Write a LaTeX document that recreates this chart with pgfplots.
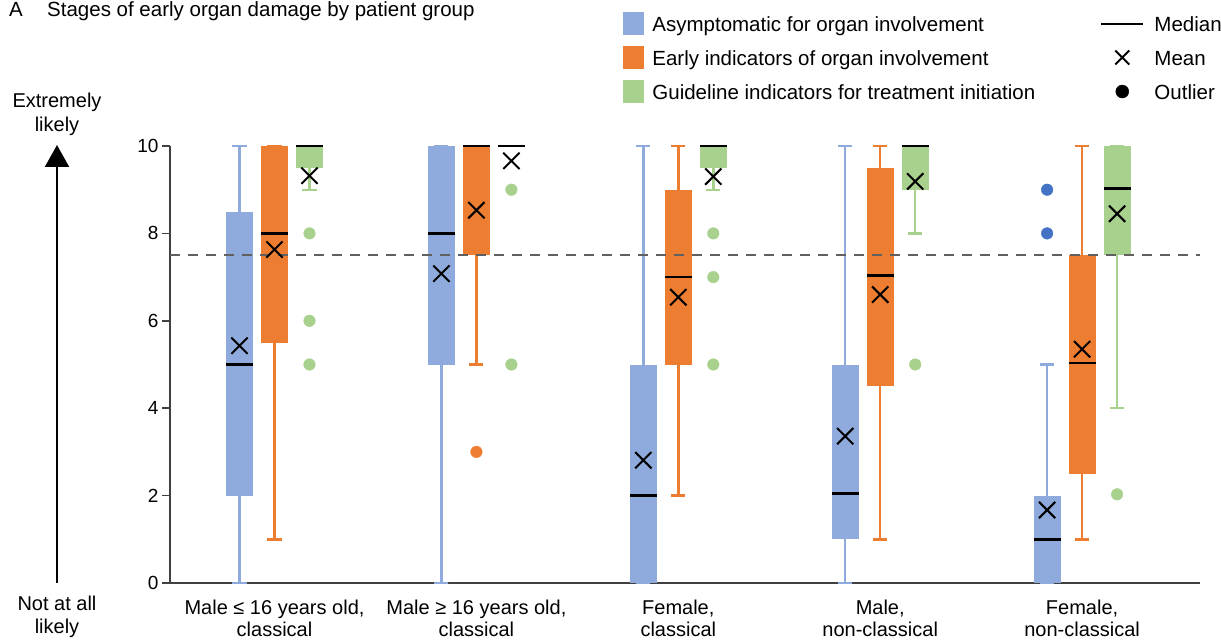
\documentclass[border=0pt]{standalone}
\usepackage{pgfplots}
\pgfplotsset{compat=1.18}
\usepgfplotslibrary{statistics}
\usetikzlibrary{arrows.meta}
\usepackage{fontspec}
\setmainfont{Liberation Sans}
\definecolor{cblue}{HTML}{8FAADC}
\definecolor{cbluedark}{HTML}{4472C4}
\definecolor{corange}{HTML}{ED7D31}
\definecolor{cgreen}{HTML}{A9D18E}
\definecolor{axisgray}{HTML}{404040}
\definecolor{dashgray}{HTML}{606060}
\pgfplotsset{
  bpbase/.style={
    forget plot,
    line width=2.4pt,
    boxplot/draw direction=y,
    boxplot/box extend=0.134,
    boxplot/whisker extend=0.07,
    boxplot/every box/.style={draw=none},
    boxplot/every median/.style={draw=black, line width=2.6pt},
    boxplot/every whisker/.style={line width=2.4pt},
    mark=*, mark size=5.8pt,
  },
  bpblue/.style={bpbase, color=cblue, fill=cblue, mark options={cbluedark, line width=0.4pt}},
  bporange/.style={bpbase, color=corange, fill=corange, mark options={corange, line width=0.4pt}},
  bpgreen/.style={bpbase, color=cgreen, fill=cgreen, mark options={cgreen, line width=0.4pt}},
}
\begin{document}
\begin{tikzpicture}
\path[use as bounding box] (0pt,0pt) rectangle (1221pt,641pt);
\begin{axis}[
  at={(170pt,58pt)}, anchor=south west,
  x=201.9pt, y=43.7pt,
  xmin=-0.5176, xmax=4.584, ymin=0, ymax=10,
  clip=false,
  axis x line*=bottom, axis y line*=left,
  axis line style={line width=2pt, color=axisgray},
  major tick length=8pt, tick align=outside,
  ytick={0,2,4,6,8,10},
  ytick style={line width=1.5pt, color=axisgray},
  xtick={0,1,2,3,4},
  xtick style={draw=none},
  xticklabels={{Male ≤ 16 years old,\\classical},{Male ≥ 16 years old,\\classical},{Female,\\classical},{Male,\\non-classical},{Female,\\non-classical}},
  xticklabel style={align=center, font=\fontsize{20}{22.5}\selectfont, yshift=-5pt},
  yticklabel style={font=\fontsize{19}{19}\selectfont},
  /pgf/number format/assume math mode=true,
  legend columns=2, legend cell align=left,
  legend style={
    at={(axis description cs:0.4398,1.3089)}, anchor=north west,
    draw=none, fill=none, inner sep=0pt, outer sep=0pt,
    row sep=9pt,
    nodes={inner sep=0pt, text height=20pt, text depth=5pt, font=\fontsize{20.5}{24}\selectfont},
    /tikz/every odd column/.append style={column sep=9pt},
    /tikz/every even column/.append style={column sep=65pt},
  },
]
\addlegendimage{legend image code/.code={\fill[cblue] (0pt,-11pt) rectangle (20pt,11pt);}}
\addlegendentry{Asymptomatic for organ involvement}
\addlegendimage{legend image code/.code={\draw[black,line width=2pt] (0pt,0pt) -- (42pt,0pt); \path (0pt,0pt) (44pt,0pt);}}
\addlegendentry{Median}
\addlegendimage{legend image code/.code={\fill[corange] (0pt,-11pt) rectangle (20pt,11pt);}}
\addlegendentry{Early indicators of organ involvement}
\addlegendimage{legend image code/.code={\draw[black,line width=2pt] (14pt,-7pt) -- (28pt,7pt) (14pt,7pt) -- (28pt,-7pt); \path (0pt,0pt) (44pt,0pt);}}
\addlegendentry{Mean}
\addlegendimage{legend image code/.code={\fill[cgreen] (0pt,-11pt) rectangle (20pt,11pt);}}
\addlegendentry{Guideline indicators for treatment initiation}
\addlegendimage{legend image code/.code={\fill[black] (21pt,0pt) circle (6.5pt); \path (0pt,0pt) (44pt,0pt);}}
\addlegendentry{Outlier}

% Group 1: Male <= 16, classical
\addplot[boxplot prepared={draw position=-0.1733, lower whisker=0, lower quartile=2, median=5, upper quartile=8.5, upper whisker=10}, bpblue] coordinates {};
\addplot[boxplot prepared={draw position=0, lower whisker=1, lower quartile=5.5, median=8, upper quartile=10, upper whisker=10}, bporange] coordinates {};
\addplot[boxplot prepared={draw position=0.1733, lower whisker=9, lower quartile=9.5, median=10, upper quartile=10, upper whisker=10}, bpgreen] coordinates {(0,8) (0,6) (0,5)};
% Group 2: Male >= 16, classical
\addplot[boxplot prepared={draw position=0.8267, lower whisker=0, lower quartile=5, median=8, upper quartile=10, upper whisker=10}, bpblue] coordinates {};
\addplot[boxplot prepared={draw position=1, lower whisker=5, lower quartile=7.5, median=10, upper quartile=10, upper whisker=10}, bporange] coordinates {(1,3)};
\addplot[boxplot prepared={draw position=1.1733, lower whisker=10, lower quartile=10, median=10, upper quartile=10, upper whisker=10}, bpgreen] coordinates {(1,9) (1,5)};
% Group 3: Female, classical
\addplot[boxplot prepared={draw position=1.8267, lower whisker=0, lower quartile=0, median=2, upper quartile=5, upper whisker=10}, bpblue] coordinates {};
\addplot[boxplot prepared={draw position=2, lower whisker=2, lower quartile=5, median=7, upper quartile=9, upper whisker=10}, bporange] coordinates {};
\addplot[boxplot prepared={draw position=2.1733, lower whisker=9, lower quartile=9.5, median=10, upper quartile=10, upper whisker=10}, bpgreen] coordinates {(2,8) (2,7) (2,5)};
% Group 4: Male, non-classical
\addplot[boxplot prepared={draw position=2.8267, lower whisker=0, lower quartile=1, median=2.05, upper quartile=5, upper whisker=10}, bpblue] coordinates {};
\addplot[boxplot prepared={draw position=3, lower whisker=1, lower quartile=4.5, median=7.03, upper quartile=9.5, upper whisker=10}, bporange] coordinates {};
\addplot[boxplot prepared={draw position=3.1733, lower whisker=8, lower quartile=9, median=10, upper quartile=10, upper whisker=10}, bpgreen] coordinates {(3,5)};
% Group 5: Female, non-classical
\addplot[boxplot prepared={draw position=3.8267, lower whisker=0, lower quartile=0, median=1, upper quartile=2, upper whisker=5}, bpblue] coordinates {(4,9) (4,8)};
\addplot[boxplot prepared={draw position=4, lower whisker=1, lower quartile=2.5, median=5.03, upper quartile=7.5, upper whisker=10}, bporange] coordinates {};
\addplot[boxplot prepared={draw position=4.1733, lower whisker=4, lower quartile=7.5, median=9.03, upper quartile=10, upper whisker=10}, bpgreen] coordinates {(4,2.03)};

% reference line
\addplot[forget plot, dashgray, line width=2pt, dash pattern=on 10pt off 8pt] coordinates {(-0.5176,7.5) (4.584,7.5)};

% means
\addplot[forget plot, only marks, mark=x, mark size=11.5pt, black, mark options={line width=2pt}] coordinates {
(-0.1733,5.43) (0,7.63) (0.1733,9.32)
(0.8267,7.08) (1,8.53) (1.1733,9.66)
(1.8267,2.81) (2,6.54) (2.1733,9.3)
(2.8267,3.36) (3,6.6) (3.1733,9.19)
(3.8267,1.67) (4,5.35) (4.1733,8.45)
};
\end{axis}

% title
\node[anchor=base west, inner sep=0pt, font=\fontsize{20.5}{24}\selectfont] at (9pt,624pt) {A};
\node[anchor=base west, inner sep=0pt, font=\fontsize{20.5}{24}\selectfont] at (47pt,624pt) {Stages of early organ damage by patient group};
% left annotation
\node[anchor=base, inner sep=0pt, font=\fontsize{20}{24}\selectfont] at (57pt,533pt) {Extremely};
\node[anchor=base, inner sep=0pt, font=\fontsize{20}{24}\selectfont] at (57pt,509pt) {likely};
\draw[line width=2pt, -{Triangle[width=24pt,length=22pt]}] (57pt,58pt) -- (57pt,496pt);
\node[anchor=base, inner sep=0pt, font=\fontsize{20}{24}\selectfont] at (57pt,31pt) {Not at all};
\node[anchor=base, inner sep=0pt, font=\fontsize{20}{24}\selectfont] at (57pt,8pt) {likely};
\end{tikzpicture}
\end{document}
